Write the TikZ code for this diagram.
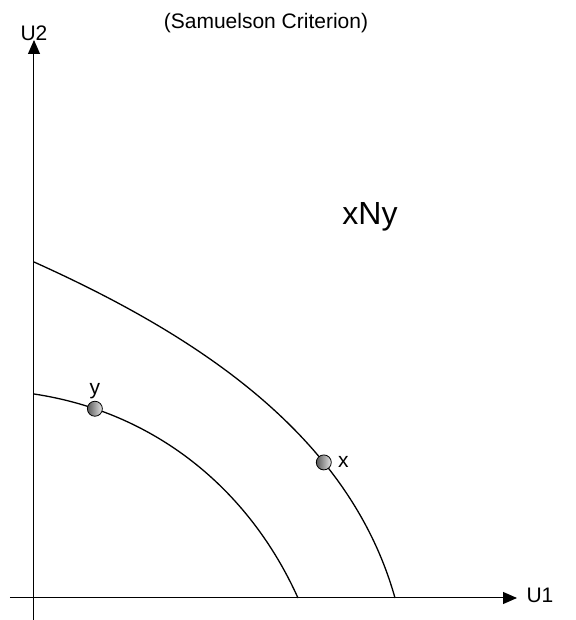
\documentclass[tikz,border=0pt]{standalone}
\usepackage{fontspec}
\setmainfont{Liberation Sans}
\usetikzlibrary{arrows.meta, positioning}

\begin{document}
\begin{tikzpicture}[x=0.5pt, y=0.5pt, >={Triangle[length=7pt, width=6pt]}]
    \tikzstyle{axis} = [draw, ->, line width=0.5pt]
    \tikzstyle{frontier} = [draw, line width=0.65pt]
    \tikzstyle{pt} = [circle, draw=black, line width=0.4pt, minimum size=7.5pt, inner sep=0pt, left color=black!65, right color=black!10]
    \tikzstyle{lbl} = [font=\fontsize{10.5}{12}\selectfont, inner sep=1pt]

    \useasboundingbox (-34,-22) rectangle (541,598);

    % axes
    \coordinate (u2start) at (0,-22);
    \coordinate (u2end) at (0,558);
    \coordinate (u1start) at (-24,0);
    \coordinate (u1end) at (483,0);
    \path [axis] (u2start) -- (u2end);
    \path [axis] (u1start) -- (u1end);
    \node [lbl] (u2) at (0,565) {U2};
    \node [lbl] (u1) at (506,3) {U1};

    % utility frontiers
    \coordinate (outA) at (0,336);
    \coordinate (outB) at (361,0);
    \coordinate (inA) at (0,204);
    \coordinate (inB) at (264,0);
    \path [frontier] (outA) .. controls (160,264) and (314.8,165) .. (outB)
        node [pt, pos=0.69] (x) {};
    \path [frontier] (inA) .. controls (120,186) and (214.5,110) .. (inB)
        node [pt, pos=0.176] (y) {};
    \node [lbl, right=2pt of x] (xl) {x};
    \node [lbl, above=0pt of y] (yl) {y};

    \node [lbl] (title) at (232,575) {(Samuelson Criterion)};
    \node [font=\fontsize{16}{19}\selectfont] (rel) at (336,381) {xNy};
\end{tikzpicture}
\end{document}
